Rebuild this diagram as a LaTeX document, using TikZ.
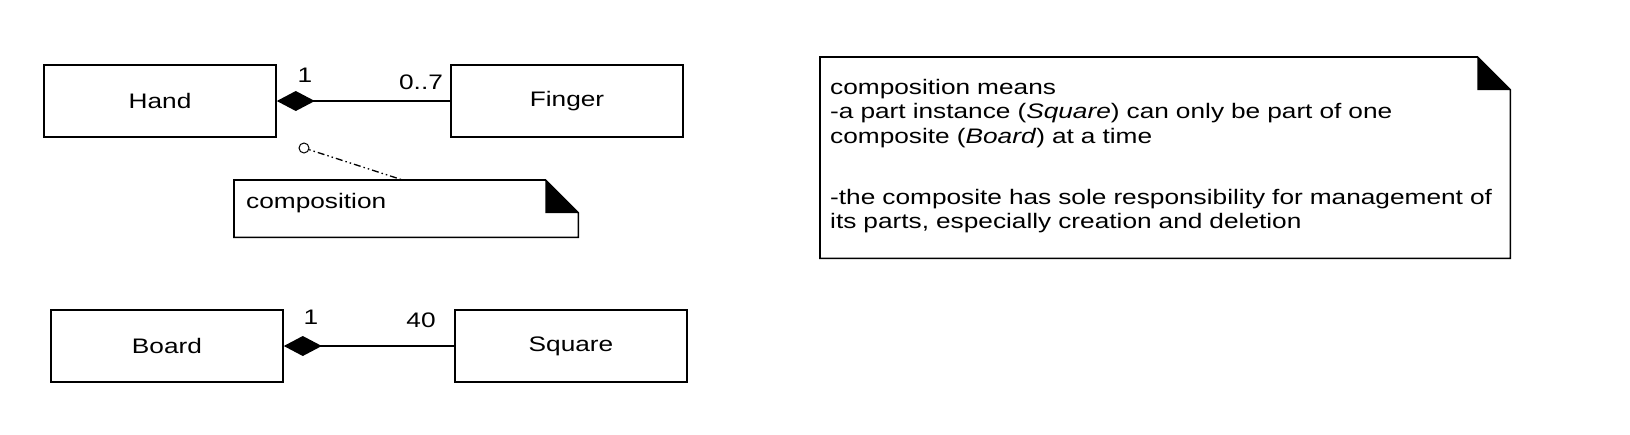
\documentclass[tikz,border=0pt]{standalone}
\usepackage{fontspec}
\setmainfont[FakeStretch=1.25]{Liberation Sans}
\usetikzlibrary{arrows.meta,calc}

% dog-eared outline of a note node
\newcommand\notefold[1]{%
  \draw[noteline] (#1.south west) -- (#1.north west) -- ([xshift=-33pt]#1.north east)
    -- ([yshift=-33pt]#1.north east) -- (#1.south east) -- cycle;
  \fill ([xshift=-33pt]#1.north east) -- ([xshift=-33pt,yshift=-33pt]#1.north east)
    -- ([yshift=-33pt]#1.north east) -- cycle;}

\begin{document}
\begin{tikzpicture}[x=1pt,y=-1pt,font=\fontsize{21}{24.4}\selectfont,
        klass/.style={draw,line width=1.6pt,minimum width=232pt,minimum height=72pt,inner sep=0pt},%class boxes
        noteline/.style={line width=1.6pt},
        notebox/.style={anchor=north west,align=left,inner xsep=12pt,inner ysep=0pt},
        compo/.style={line width=1.6pt,{Diamond[length=38pt,width=20pt]}-},%filled diamond at the whole
        mult/.style={inner sep=0pt}
                ]
\useasboundingbox (0,0) rectangle (1630,434);

\node[klass] (hand)   at (160,101) {Hand};
\node[klass] (finger) at (567,101) {Finger};
\node[klass] (board)  at (167,346) {Board};
\node[klass] (square) at (571,346) {Square};

\draw[compo] (hand) -- (finger);
\draw[compo] (board) -- (square);

\node[mult] (handone)   at (305,75)  {1};
\node[mult] (fingermax) at (421,82)  {0..7};
\node[mult] (boardone)  at (311,317) {1};
\node[mult] (squaremax) at (421,320) {40};

% note on the Hand--Finger link
\node[notebox,text width=320pt,text height=28pt,text depth=29pt] (cnote) at (234,180) {composition};
\notefold{cnote}
\node[draw,circle,line width=1pt,minimum size=10pt,inner sep=0pt] (anchorhand) at (304,148) {};
\draw[line width=1.3pt,dash pattern=on 1.5pt off 3pt on 1.5pt off 3pt on 7pt off 3pt]
     (anchorhand) -- ($(cnote.north west)!0.49!(cnote.north east)$);

% free note
\node[notebox,inner xsep=10pt,text width=670pt,text height=37pt,text depth=164pt] (mnote) at (820,57)
     {composition means\\
      -a part instance (\textit{Square}) can only be part of one\\
      composite (\textit{Board}) at a time\\[37pt]
      -the composite has sole responsibility for management of\\
      its parts, especially creation and deletion};
\notefold{mnote}
\end{tikzpicture}
\end{document}
